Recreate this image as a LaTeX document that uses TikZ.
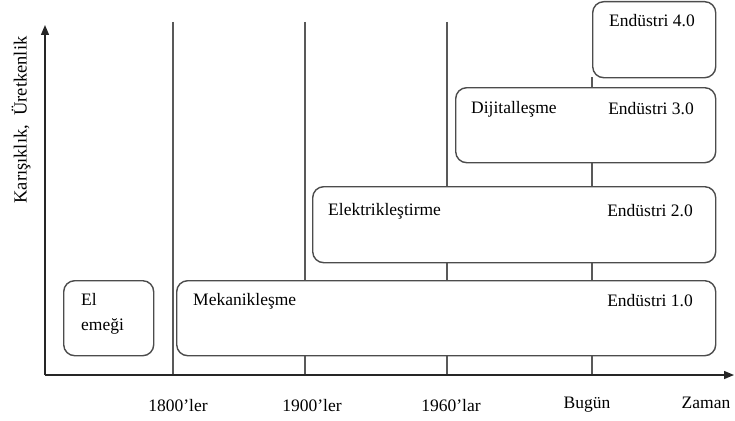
\documentclass[tikz,border=0pt]{standalone}
\usepackage{fontspec}
\setmainfont{Liberation Serif}
\usetikzlibrary{arrows.meta}
\begin{document}
\begin{tikzpicture}[x=1pt,y=-1pt,
  era/.style={draw=black!70,line width=1.4pt,rounded corners=11pt,fill=white,inner sep=0pt},
  tline/.style={draw=black!65,line width=1.4pt},
  axis/.style={draw=black!85,line width=1.4pt,-{Triangle[length=10pt,width=8pt]}},
  lbl/.style={font=\fontsize{17.5}{21}\selectfont,inner sep=0pt}]
\useasboundingbox (0,0) rectangle (735,420);
% timeline marks
\coordinate (t1a) at (173,22); \coordinate (t1b) at (173,375);
\coordinate (t2a) at (305,22); \coordinate (t2b) at (305,375);
\coordinate (t3a) at (447,22); \coordinate (t3b) at (447,375);
\coordinate (t4a) at (592,77); \coordinate (t4b) at (592,375);
\draw[tline] (t1a) -- (t1b);
\draw[tline] (t2a) -- (t2b);
\draw[tline] (t3a) -- (t3b);
\draw[tline] (t4a) -- (t4b);
% axes
\coordinate (o) at (45,375);
\coordinate (ytop) at (45,25);
\coordinate (xend) at (734,375);
\draw[axis] (o) -- (ytop);
\draw[axis] (o) -- (xend);
% boxes
\node[era,minimum width=90pt,minimum height=75pt,anchor=north west] (b0) at (63,280) {};
\node[era,minimum width=539pt,minimum height=75pt,anchor=north west] (b1) at (176,280) {};
\node[era,minimum width=403pt,minimum height=76pt,anchor=north west] (b2) at (312,186) {};
\node[era,minimum width=260pt,minimum height=75pt,anchor=north west] (b3) at (455,87) {};
\node[era,minimum width=123pt,minimum height=76pt,anchor=north west] (b4) at (592,1) {};
% texts
\node[lbl,anchor=west] (el) at (81,299) {El};
\node[lbl,anchor=west] (em) at (81,326) {emeği};
\node[lbl,anchor=west] (mek) at (193,301) {Mekanikleşme};
\node[lbl,anchor=east] (e1) at (693,301) {Endüstri 1.0};
\node[lbl,anchor=west] (ele) at (328,211) {Elektrikleştirme};
\node[lbl,anchor=east] (e2) at (693,211) {Endüstri 2.0};
\node[lbl,anchor=west] (dij) at (471,109) {Dijitalleşme};
\node[lbl,anchor=east] (e3) at (694,109) {Endüstri 3.0};
\node[lbl] (e4) at (652,21) {Endüstri 4.0};
% axis labels
\node[lbl] (l1) at (178,406) {1800’ler};
\node[lbl] (l2) at (312,406) {1900’ler};
\node[lbl] (l3) at (451,406) {1960’lar};
\node[lbl] (l4) at (587,405) {Bugün};
\node[lbl] (l5) at (706,403) {Zaman};
\node[lbl,rotate=90,font=\fontsize{18.5}{22}\selectfont] (ylab) at (21,120) {Karışıklık,\ \ Üretkenlik};
\end{tikzpicture}
\end{document}
